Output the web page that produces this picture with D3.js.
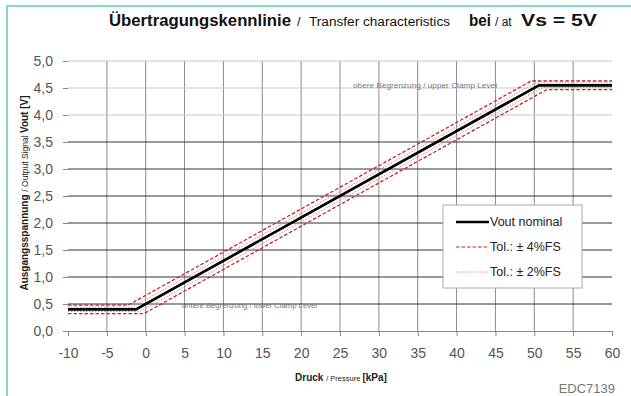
<!DOCTYPE html>
<html>
<head>
<meta charset="utf-8">
<script src="https://cdn.jsdelivr.net/npm/d3@7"></script>
<style>
  body { margin: 0; background: #fff; }
  text { font-family: "Liberation Sans", Arial, sans-serif; }
</style>
</head>
<body>
<script>
const w = 631;
const h = 396;

// data
const xTicks = [-10, -5, 0, 5, 10, 15, 20, 25, 30, 35, 40, 45, 50, 55, 60];
const yTicks = [0, 0.5, 1, 1.5, 2, 2.5, 3, 3.5, 4, 4.5, 5];
const nominal = [[-10, 0.4], [-1.25, 0.4], [50.6, 4.55], [60, 4.55]];
const tol4Upper = [[-10, 0.48], [-2.25, 0.48], [49.6, 4.63], [60, 4.63]];
const tol4Lower = [[-10, 0.32], [-0.25, 0.32], [51.6, 4.47], [60, 4.47]];
const tol2Upper = [[-10, 0.44], [-1.75, 0.44], [50.1, 4.59], [60, 4.59]];
const tol2Lower = [[-10, 0.36], [-0.75, 0.36], [51.1, 4.51], [60, 4.51]];
const legendLabels = ["Vout nominal", "Tol.: \u00b1 4%FS", "Tol.: \u00b1 2%FS"];

const svg = d3.select("body").append("svg").attr("width", w).attr("height", h);

// teal frame on left and top
svg.append("path").attr("d", "M7,396 V6 H631")
  .attr("fill", "none").attr("stroke", "#86d9c9").attr("stroke-width", 2);

const x = d3.scaleLinear().domain([-10, 60]).range([68, 612]);
const y = d3.scaleLinear().domain([0, 5]).range([331, 61]);

// grid
svg.append("g").selectAll("line").data(xTicks.filter(d => d > -10 && d < 60)).enter().append("line")
  .attr("x1", d => x(d)).attr("x2", d => x(d))
  .attr("y1", y(5)).attr("y2", y(0))
  .attr("stroke", "#8c8c8c").attr("stroke-width", 1);

svg.append("g").selectAll("line").data(yTicks.filter(d => d > 0)).enter().append("line")
  .attr("x1", x(-10)).attr("x2", x(60))
  .attr("y1", d => y(d)).attr("y2", d => y(d))
  .attr("stroke", d => d >= 4 ? "#c8c8c8" : "#333")
  .attr("stroke-width", 1);

// axes
const xAxis = svg.append("g").attr("transform", `translate(0,${y(0)})`)
  .call(d3.axisBottom(x).tickValues(xTicks).tickSize(5).tickPadding(12).tickSizeOuter(0)
    .tickFormat(d => String(d)));
const yAxis = svg.append("g").attr("transform", `translate(${x(-10)},0)`)
  .call(d3.axisLeft(y).tickValues(yTicks).tickSize(5).tickPadding(10).tickSizeOuter(0)
    .tickFormat(d => d3.format(".1f")(d).replace(".", ",")));
[xAxis, yAxis].forEach(g => {
  g.selectAll("path.domain").attr("stroke", "#888");
  g.selectAll(".tick line").attr("stroke", "#888");
  g.selectAll(".tick text").attr("font-size", 14).attr("fill", "#555")
    .attr("font-family", "Liberation Sans, Arial, sans-serif");
});
yAxis.select("path.domain").remove();

// curves
const line = d3.line().x(d => x(d[0])).y(d => y(d[1]));
[tol4Upper, tol4Lower].forEach(s => svg.append("path").attr("d", line(s))
  .attr("fill", "none").attr("stroke", "#c0262c").attr("stroke-width", 1.3)
  .attr("stroke-dasharray", "3.5,2"));
[tol2Upper, tol2Lower].forEach(s => svg.append("path").attr("d", line(s))
  .attr("fill", "none").attr("stroke", "#e4848a").attr("stroke-width", 1)
  .attr("stroke-dasharray", "1.5,1.5"));
svg.append("path").attr("d", line(nominal))
  .attr("fill", "none").attr("stroke", "#000").attr("stroke-width", 2.7);

// clamp labels
svg.append("text").attr("x", 497).attr("y", 88).attr("text-anchor", "end")
  .attr("font-size", 8).attr("fill", "#777")
  .attr("textLength", 144).attr("lengthAdjust", "spacingAndGlyphs")
  .text("obere Begrenzung / upper Clamp Level");
svg.append("text").attr("x", 182).attr("y", 308)
  .attr("font-size", 7.5).attr("fill", "#777")
  .attr("textLength", 135).attr("lengthAdjust", "spacingAndGlyphs")
  .text("untere Begrenzung / lower Clamp Level");

// legend
const lg = svg.append("g");
lg.append("rect").attr("x", 443).attr("y", 205).attr("width", 139).attr("height", 83)
  .attr("fill", "#fff").attr("stroke", "#aaa");
const legendStyles = [
  { stroke: "#000", width: 2.4, dash: null },
  { stroke: "#c0262c", width: 1.2, dash: "3.5,2" },
  { stroke: "#e4848a", width: 1, dash: "1.5,1.5" }
];
lg.selectAll("line").data(legendLabels).enter().append("line")
  .attr("x1", 456).attr("x2", 489)
  .attr("y1", (d, i) => 222 + i * 25).attr("y2", (d, i) => 222 + i * 25)
  .attr("stroke", (d, i) => legendStyles[i].stroke)
  .attr("stroke-width", (d, i) => legendStyles[i].width)
  .attr("stroke-dasharray", (d, i) => legendStyles[i].dash);
lg.selectAll("text").data(legendLabels).enter().append("text")
  .attr("x", 490).attr("y", (d, i) => 226 + i * 25)
  .attr("font-size", 12.5).attr("fill", "#222").text(d => d);

// title, one text with parts
const tt = svg.append("text").attr("y", 26).attr("fill", "#111");
tt.append("tspan").attr("x", 109).attr("font-size", 17).attr("font-weight", "bold")
  .attr("textLength", 182).attr("lengthAdjust", "spacingAndGlyphs").text("\u00dcbertragungskennlinie");
tt.append("tspan").attr("x", 297).attr("font-size", 13).text("/");
tt.append("tspan").attr("x", 309).attr("font-size", 12.5)
  .attr("textLength", 141).attr("lengthAdjust", "spacingAndGlyphs").text("Transfer characteristics");
tt.append("tspan").attr("x", 469).attr("font-size", 17).attr("font-weight", "bold")
  .attr("textLength", 22).attr("lengthAdjust", "spacingAndGlyphs").text("bei");
tt.append("tspan").attr("x", 495).attr("font-size", 12).text("/ at");
tt.append("tspan").attr("x", 521).attr("font-size", 17).attr("font-weight", "bold")
  .attr("textLength", 76).attr("lengthAdjust", "spacingAndGlyphs").text("Vs = 5V");

// axis titles
const xt = svg.append("text").attr("x", 341).attr("y", 381).attr("text-anchor", "middle").attr("fill", "#222");
xt.append("tspan").attr("font-size", 10).attr("font-weight", "bold").text("Druck ");
xt.append("tspan").attr("font-size", 7.5).text("/ Pressure ");
xt.append("tspan").attr("font-size", 10).attr("font-weight", "bold").text("[kPa]");

const yt = svg.append("text").attr("transform", "translate(28,193) rotate(-90)")
  .attr("text-anchor", "middle").attr("fill", "#222");
yt.append("tspan").attr("font-size", 10).attr("font-weight", "bold").text("Ausgangsspannung ");
yt.append("tspan").attr("font-size", 8.5).text("/ Output Signal ");
yt.append("tspan").attr("font-size", 10).attr("font-weight", "bold").text("Vout [V]");

// figure code
svg.append("text").attr("x", 615).attr("y", 393).attr("text-anchor", "end")
  .attr("font-size", 13).attr("fill", "#777").text("EDC7139");
</script>
</body>
</html>
